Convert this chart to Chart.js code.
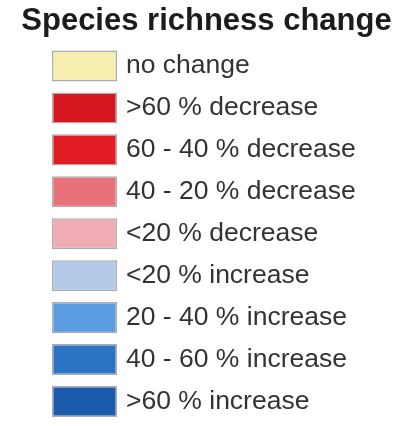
<!DOCTYPE html>
<html>
<head>
<meta charset="utf-8">
<script src="https://cdn.jsdelivr.net/npm/chart.js@4"></script>
<style>
  html, body { margin: 0; padding: 0; background: #ffffff; }
  #wrap { width: 413px; height: 426px; position: relative; }
</style>
</head>
<body>
<div id="wrap"><canvas id="c" width="413" height="426"></canvas></div>
<script>
const titleText = 'Species richness change';
const categories = [
  'no change',
  '>60 % decrease',
  '60 - 40 % decrease',
  '40 - 20 % decrease',
  '<20 % decrease',
  '<20 % increase',
  '20 - 40 % increase',
  '40 - 60 % increase',
  '>60 % increase'
];
const swatchValues = [1, 1, 1, 1, 1, 1, 1, 1, 1];
const swatchColors = [
  '#f7efb0',
  '#d7171f',
  '#e01b22',
  '#e8717a',
  '#f0acb5',
  '#b3cbe8',
  '#5b9ce0',
  '#2b74c4',
  '#1b5bab'
];

const FONT = "'Liberation Sans', Arial, Helvetica, sans-serif";

new Chart(document.getElementById('c'), {
  type: 'bar',
  data: {
    labels: categories,
    datasets: [{
      data: swatchValues,
      backgroundColor: swatchColors,
      borderColor: 'rgba(70,70,70,0.45)',
      borderWidth: 1.5,
      borderSkipped: false,
      barPercentage: 0.74,
      categoryPercentage: 1
    }]
  },
  options: {
    responsive: false,
    animation: false,
    indexAxis: 'y',
    layout: { padding: { left: 0, right: 0, top: 0, bottom: 3.5 } },
    plugins: {
      legend: { display: false },
      tooltip: { enabled: false },
      title: {
        display: true,
        text: titleText,
        align: 'center',
        color: '#1c1c1c',
        font: { family: FONT, size: 31, weight: 'bold', lineHeight: 1 },
        padding: { top: 5.5, bottom: 8.5 }
      }
    },
    scales: {
      x: { display: false, min: 0, max: 1 },
      y: {
        position: 'right',
        grid: { display: false, drawTicks: false, tickLength: 0 },
        border: { display: false },
        ticks: {
          color: '#333333',
          padding: 9,
          font: { family: FONT, size: 26.5 },
          autoSkip: false
        },
        afterFit: (s) => { s.width = 296; s.paddingTop = 0; s.paddingBottom = 0; }
      },
      pad: {
        type: 'linear',
        position: 'left',
        display: true,
        grid: { display: false, drawTicks: false },
        border: { display: false },
        ticks: { display: false },
        afterFit: (s) => { s.width = 52; s.paddingTop = 0; s.paddingBottom = 0; }
      }
    }
  }
});
</script>
</body>
</html>
